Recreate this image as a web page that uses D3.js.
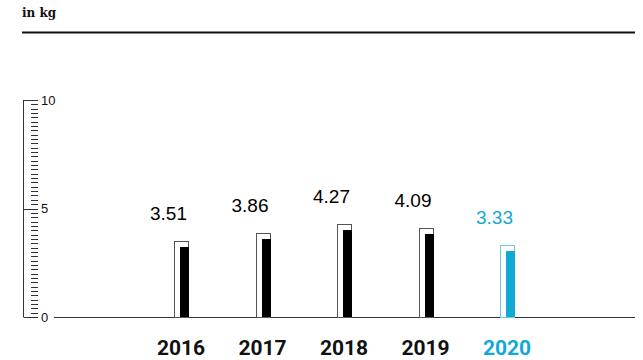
<!DOCTYPE html>
<html>
<head>
<meta charset="utf-8">
<script src="https://cdn.jsdelivr.net/npm/d3@7/dist/d3.min.js"></script>
<style>
  html, body { margin: 0; padding: 0; background: #fff; }
  svg { display: block; }
</style>
</head>
<body>
<svg id="chart" width="643" height="360"></svg>
<script>
// Annual amounts, in kg
const years = ["2016", "2017", "2018", "2019", "2020"];
const values = [3.51, 3.86, 4.27, 4.09, 3.33];
const highlightYear = "2020";
const axisTicks = [0, 5, 10];

const BLUE = "#12a9d4";
const svg = d3.select("#chart");

const y = d3.scaleLinear().domain([0, 10]).range([317, 100]);
const x = d3.scalePoint().domain(years).range([181, 507]);

const barW = 14, inset = 6;

// unit heading and rule
svg.append("text")
  .attr("x", 22).attr("y", 17)
  .attr("font-family", "'DejaVu Serif', 'Liberation Serif', serif")
  .attr("font-weight", "bold").attr("font-size", 12)
  .attr("fill", "#111")
  .text("in kg");
svg.append("line")
  .attr("x1", 22).attr("x2", 635).attr("y1", 32.5).attr("y2", 32.5)
  .attr("stroke", "#111").attr("stroke-width", 2);

// ruler-style value axis
const axisX = 23.5;
const ax = svg.append("g").attr("stroke", "#333").attr("stroke-width", 1);
ax.append("line")
  .attr("x1", axisX).attr("x2", axisX)
  .attr("y1", y(10)).attr("y2", y(0));
const minor = d3.range(0, 10.0001, 0.2).filter(v => !axisTicks.some(t => Math.abs(t - v) < 1e-6));
ax.selectAll("line.minor").data(minor).join("line")
  .attr("class", "minor")
  .attr("x1", 31).attr("x2", 38)
  .attr("y1", d => Math.round(y(d)) + 0.5).attr("y2", d => Math.round(y(d)) + 0.5);
ax.selectAll("line.major").data(axisTicks).join("line")
  .attr("class", "major")
  .attr("x1", axisX).attr("x2", 38)
  .attr("y1", d => Math.round(y(d)) + 0.5).attr("y2", d => Math.round(y(d)) + 0.5);
svg.selectAll("text.tick").data(axisTicks).join("text")
  .attr("class", "tick")
  .attr("x", 41).attr("y", d => y(d))
  .attr("dy", "0.35em")
  .attr("font-family", "'Liberation Sans', Arial, sans-serif")
  .attr("font-size", 13)
  .attr("fill", "#111")
  .text(d => d);

// baseline
svg.append("line")
  .attr("x1", 54).attr("x2", 635)
  .attr("y1", y(0) + 0.5).attr("y2", y(0) + 0.5)
  .attr("stroke", "#333").attr("stroke-width", 1.2);

const data = years.map((yr, i) => ({ year: yr, value: values[i] }));
const col = d => d.year === highlightYear ? BLUE : "#000";

const bars = svg.append("g").selectAll("g").data(data).join("g");

// outlined frame at the value
bars.append("rect")
  .attr("x", d => Math.round(x(d.year) - barW / 2) + 0.5)
  .attr("y", d => Math.round(y(d.value)) + 0.5)
  .attr("width", barW)
  .attr("height", d => y(0) - Math.round(y(d.value)))
  .attr("fill", "#fff")
  .attr("stroke", d => d.year === highlightYear ? "#6cc8e6" : "#555")
  .attr("stroke-width", 1);

// solid bar set inside the frame
bars.append("rect")
  .attr("x", d => Math.round(x(d.year) - barW / 2) + inset)
  .attr("y", d => Math.round(y(d.value)) + inset)
  .attr("width", barW - inset + 1)
  .attr("height", d => y(0) - Math.round(y(d.value)) - inset)
  .attr("fill", col);

// value labels
bars.append("text")
  .attr("x", d => x(d.year) - 12.5)
  .attr("y", d => y(d.value) - 21)
  .attr("text-anchor", "middle")
  .attr("font-family", "'Liberation Sans', Arial, sans-serif")
  .attr("font-size", 19)
  .attr("fill", col)
  .text(d => d.value.toFixed(2));

// year labels
bars.append("text")
  .attr("x", d => x(d.year))
  .attr("y", 355)
  .attr("text-anchor", "middle")
  .attr("font-family", "Roboto, 'Liberation Sans', sans-serif")
  .attr("font-weight", "bold")
  .attr("font-size", 21)
  .attr("fill", d => d.year === highlightYear ? BLUE : "#111")
  .text(d => d.year);
</script>
</body>
</html>
